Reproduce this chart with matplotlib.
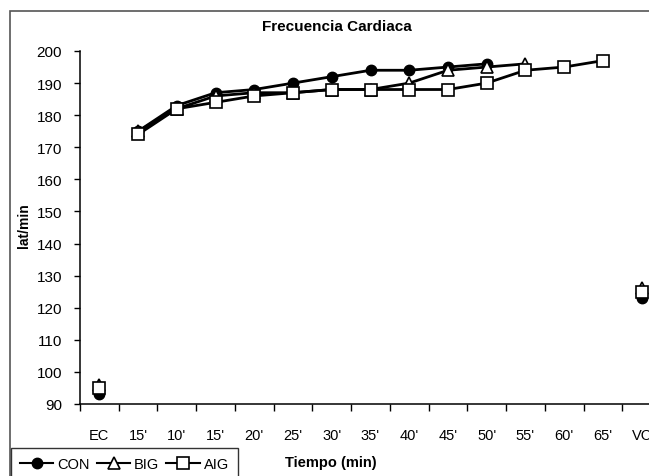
import numpy as np
import matplotlib
matplotlib.use("Agg")
import matplotlib.pyplot as plt
from matplotlib.patches import Rectangle
from matplotlib.lines import Line2D

plt.rcParams['font.family'] = ['Liberation Sans', 'DejaVu Sans']

categories = ["EC", "15'", "10'", "15'", "20'", "25'", "30'", "35'", "40'",
              "45'", "50'", "55'", "60'", "65'", "VC"]

# valores durante el ejercicio (desde la 2a categoria)
con_ex = [175, 183, 187, 188, 190, 192, 194, 194, 195, 196]
big_ex = [175, 182, 186, 187, 187, 188, 188, 190, 194, 195, 196]
aig_ex = [174, 182, 184, 186, 187, 188, 188, 188, 188, 190, 194, 195, 197]

# reposo (EC) y vuelta a la calma (VC)
con_ec, con_vc = 93, 123
big_ec, big_vc = 96, 126
aig_ec, aig_vc = 95, 125

W, H = 649, 477
fig = plt.figure(figsize=(W / 100, H / 100), dpi=100)

# marco del grafico (recortado a la derecha y abajo)
fig.patches.append(Rectangle((10 / W, -0.2), 1.2, (H - 12) / H + 0.2,
                             transform=fig.transFigure, fill=False,
                             edgecolor='#555555', lw=1.2))

ax = fig.add_axes([80 / W, (H - 405) / H, (661 - 80) / W, (405 - 52) / H])

n = len(categories)
styles = [
    ("CON", con_ex, con_ec, con_vc, dict(marker='o', markersize=7.5, markerfacecolor='black',
                                         markeredgecolor='black')),
    ("BIG", big_ex, big_ec, big_vc, dict(marker='^', markersize=8.5, markerfacecolor='white',
                                         markeredgecolor='black', markeredgewidth=1.2)),
    ("AIG", aig_ex, aig_ec, aig_vc, dict(marker='s', markersize=8, markerfacecolor='white',
                                         markeredgecolor='black', markeredgewidth=1.2)),
]

handles = []
for name, ex, ec, vc, mk in styles:
    xs = np.arange(1, 1 + len(ex))
    ax.plot(xs, ex, color='black', lw=2, clip_on=False, **mk)
    ax.plot([0, n - 1], [ec, vc], linestyle='none', clip_on=False, **mk)
    handles.append(Line2D([], [], color='black', lw=1.5, **mk))

ax.set_xlim(-0.5, n - 0.5)
ax.set_ylim(90, 200)
ax.set_yticks(np.arange(90, 201, 10))

ax.set_xticks(np.arange(-0.5, n, 1.0))
ax.set_xticklabels([])
ax.set_xticks(np.arange(n), minor=True)
ax.set_xticklabels(categories, minor=True)
ax.tick_params(axis='x', which='major', direction='out', length=5, width=1)
ax.tick_params(axis='x', which='minor', length=0, pad=17, labelsize=10.5)
ax.tick_params(axis='y', direction='out', length=4, width=1, pad=9, labelsize=11)

for s in ['top', 'right']:
    ax.spines[s].set_visible(False)
for s in ['left', 'bottom']:
    ax.spines[s].set_linewidth(1.1)

fig.text(337 / W, (H - 27) / H, "Frecuencia Cardiaca", ha='center', va='center',
         fontsize=11, fontweight='bold')
fig.text(331 / W, (H - 463) / H, "Tiempo (min)", ha='center', va='center',
         fontsize=10.5, fontweight='bold')
fig.text(24 / W, (H - 226) / H, "lat/min", ha='center', va='center', rotation=90,
         fontsize=10, fontweight='bold')

leg = fig.legend(handles, ["CON", "BIG", "AIG"], loc='upper left',
                 bbox_to_anchor=(11 / W, (H - 449) / H), ncol=3, frameon=True,
                 fancybox=False, edgecolor='black', fontsize=10.5,
                 handlelength=2.3, handletextpad=0.25, columnspacing=0.5,
                 borderpad=0.6, borderaxespad=0)
leg.get_frame().set_linewidth(1.0)

fig.savefig("out.png", dpi=100)
